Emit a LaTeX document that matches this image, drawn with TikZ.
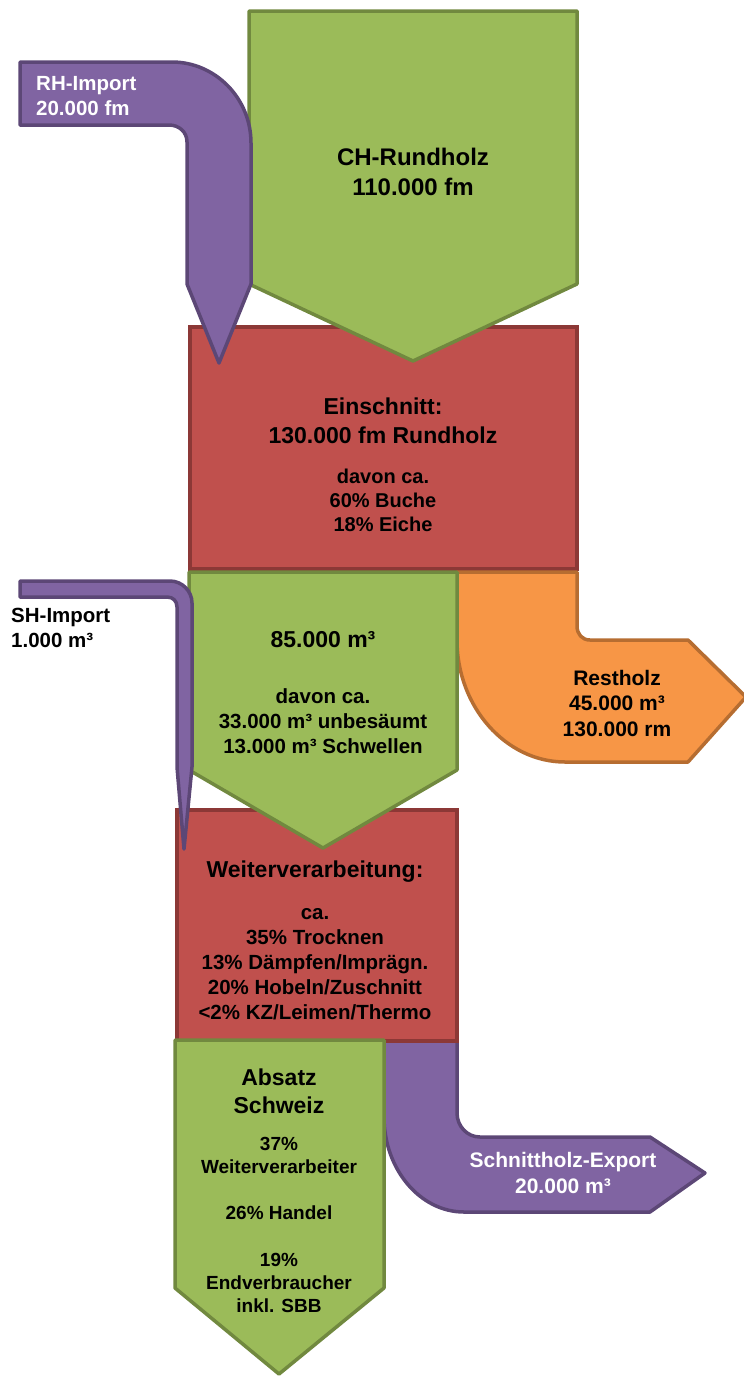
\documentclass[tikz,border=0pt]{standalone}
\usepackage{fontspec}
\setmainfont{Liberation Sans}
\definecolor{leaf_green}{RGB}{155, 187, 89}
\definecolor{leaf_green_line}{RGB}{113, 137, 63}
\definecolor{brick_red}{RGB}{192, 80, 77}
\definecolor{brick_red_line}{RGB}{140, 56, 54}
\definecolor{plum}{RGB}{128, 100, 162}
\definecolor{plum_line}{RGB}{92, 71, 118}
\definecolor{amber}{RGB}{247, 150, 70}
\definecolor{amber_line}{RGB}{182, 109, 49}

\begin{document}
\begin{tikzpicture}[
    x=1pt, y=-1pt,
    flow/.style={
        draw=#1_line,
        fill=#1,
        line width=3.5pt,
        line join=round
    },
    stage/.style={
        rectangle,
        draw=#1_line,
        fill=#1,
        line width=3.5pt,
        inner sep=0pt
    },
    headline/.style={
        font=\fontsize{23}{29}\selectfont\bfseries,
        align=center,
        text=#1
    },
    headline/.default=black,
    detail/.style={
        font=\fontsize{20.5}{25}\selectfont\bfseries,
        align=center,
        text=#1
    },
    detail/.default=black,
    small_detail/.style={
        font=\fontsize{19}{23}\selectfont\bfseries,
        align=center
    },
]
\useasboundingbox (0,0) rectangle (744,1376);

% Process boxes
\node[stage=brick_red, minimum width=387pt, minimum height=242pt] (einschnitt_box) at (383.5,448) {};

% Restholz outflow
\draw[flow=amber] (457,572) -- (577,572) -- (577,626)
    .. controls (577,634) and (582,640) .. (590,640) -- (688,640) -- (746,697)
    -- (688,762) -- (565,762) .. controls (506,762) and (457,707) .. (457,640) -- cycle;

% Export outflow
\draw[flow=plum] (384,1041) -- (457,1041) -- (457,1113)
    .. controls (457,1126) and (467,1137) .. (480,1137) -- (650,1137) -- (705,1173)
    -- (650,1212) -- (464,1212) .. controls (420,1212) and (384,1169) .. (384,1117) -- cycle;

\node[stage=brick_red, minimum width=280pt, minimum height=231pt] (weiter_box) at (317,925.5) {};

% Inflows
\draw[flow=leaf_green] (249,11) -- (577,11) -- (577,284) -- (413,361) -- (249,284) -- cycle;

\draw[flow=plum] (20,62) -- (172,62) .. controls (215,62) and (251,98) .. (251,143)
    -- (251,284) -- (219,363) -- (187,284) -- (187,142)
    .. controls (187,132) and (179,125) .. (169,125) -- (20,125) -- cycle;

\draw[flow=leaf_green] (189,572) -- (457,572) -- (457,770) -- (323,848) -- (189,770) -- cycle;

\draw[flow=plum] (20,581) -- (170,581) .. controls (182,581) and (192,591) .. (192,603)
    -- (192,767) -- (184,849) -- (177,767) -- (177,607)
    .. controls (177,601) and (173,597) .. (167,597) -- (20,597) -- cycle;

\draw[flow=leaf_green] (175,1040) -- (384,1040) -- (384,1288) -- (279,1374) -- (175,1288) -- cycle;

% Labels
\node[detail=white, align=left, anchor=west, inner sep=0pt] (rh_import) at (36,96) {RH-Import\\20.000 fm};
\node[font=\fontsize{24}{30}\selectfont\bfseries, align=center] (ch_rundholz) at (413,172) {CH-Rundholz\\110.000 fm};

\node[headline] (einschnitt) at (383,421) {Einschnitt:\\130.000 fm Rundholz};
\node[detail, font=\fontsize{20}{24}\selectfont\bfseries] (einschnitt_detail) at (383,500) {davon ca.\\60\% Buche\\18\% Eiche};

\node[headline] (schnittholz) at (323,640) {85.000 m³};
\node[detail] (schnittholz_detail) at (323,721) {davon ca.\\33.000 m³ unbesäumt\\13.000 m³ Schwellen};

\node[detail, font=\fontsize{21}{25.5}\selectfont\bfseries] (restholz) at (617,703) {Restholz\\45.000 m³\\130.000 rm};

\node[detail, align=left, anchor=west, inner sep=0pt] (sh_import) at (11,628) {SH-Import\\1.000 m³};

\node[headline] (weiter) at (315,872) {Weiterverarbeitung:};
\node[detail] (weiter_detail) at (315,964) {ca.\\35\% Trocknen\\13\% Dämpfen/Imprägn.\\20\% Hobeln/Zuschnitt\\<2\% KZ/Leimen/Thermo};

\node[headline, font=\fontsize{23}{28}\selectfont\bfseries] (absatz) at (279,1091) {Absatz\\Schweiz};
\node[small_detail] (absatz_weiter) at (279,1155) {37\%\\Weiterverarbeiter};
\node[small_detail] (absatz_handel) at (279,1213) {26\% Handel};
\node[small_detail] (absatz_end) at (279,1283) {19\%\\Endverbraucher\\inkl. SBB};

\node[detail=white, font=\fontsize{21}{26}\selectfont\bfseries] (export) at (563,1173) {Schnittholz-Export\\20.000 m³};

\end{tikzpicture}
\end{document}
